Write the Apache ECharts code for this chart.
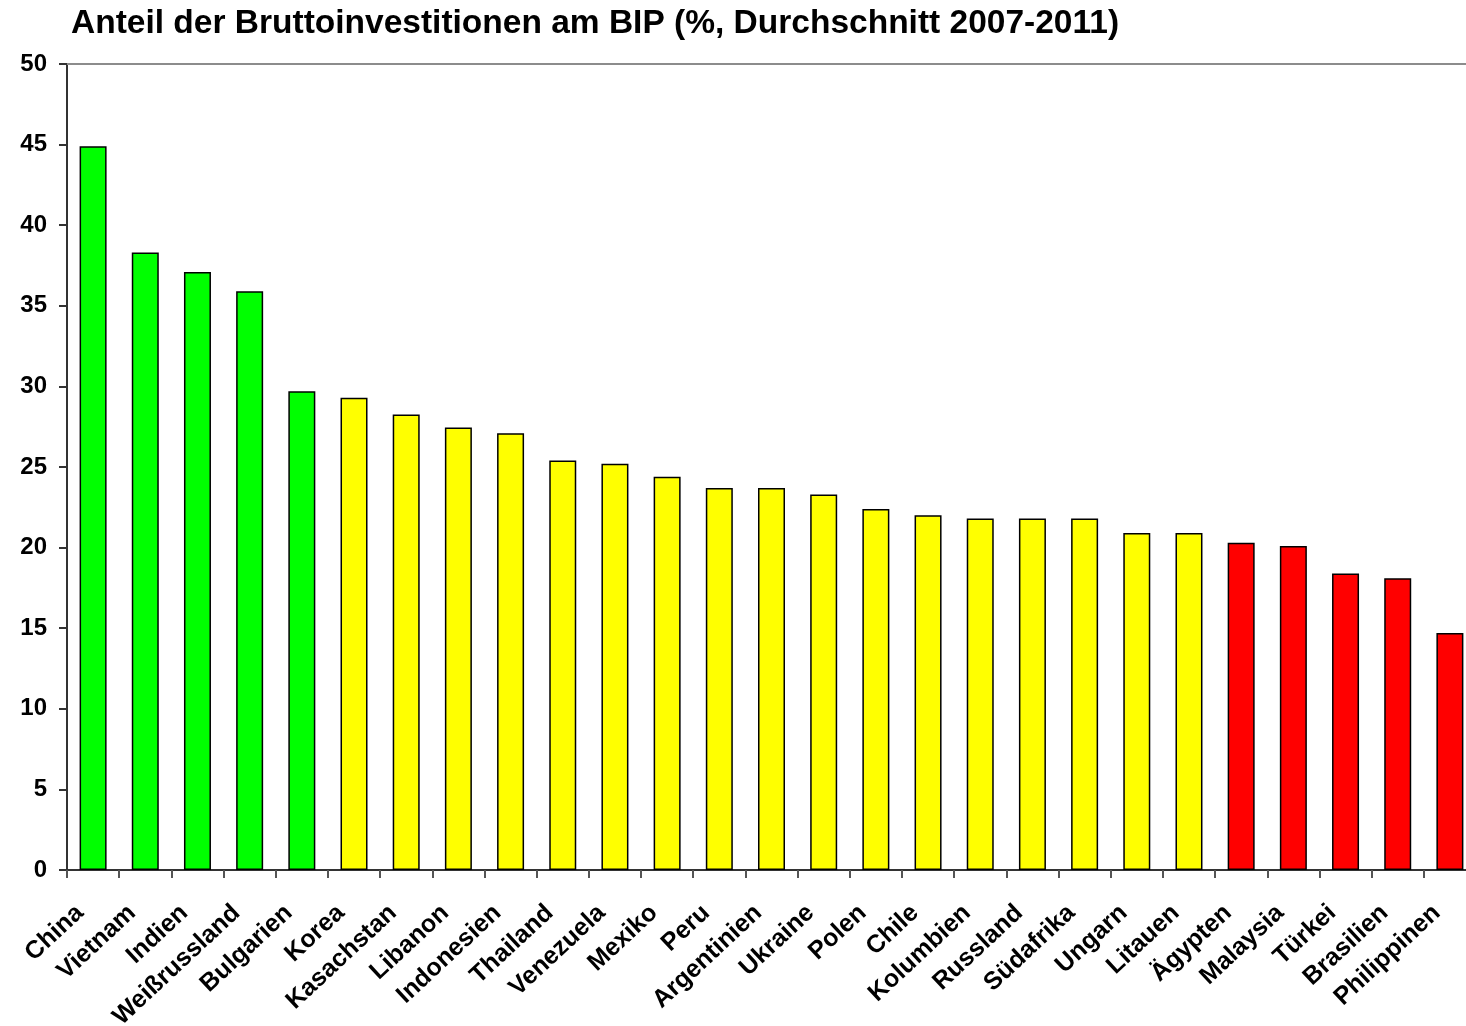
<!DOCTYPE html>
<html>
<head>
<meta charset="utf-8">
<script src="https://cdn.jsdelivr.net/npm/echarts@6/dist/echarts.min.js"></script>
<style>
  html, body { margin: 0; padding: 0; background: #fff; overflow: hidden; }
  #chart { width: 1476px; height: 1026px; }
</style>
</head>
<body>
<div id="chart"></div>
<script>
    // Daten
    var laender = ['China', 'Vietnam', 'Indien', 'Weißrussland', 'Bulgarien', 'Korea', 'Kasachstan', 'Libanon',
        'Indonesien', 'Thailand', 'Venezuela', 'Mexiko', 'Peru', 'Argentinien', 'Ukraine', 'Polen', 'Chile',
        'Kolumbien', 'Russland', 'Südafrika', 'Ungarn', 'Litauen', 'Ägypten', 'Malaysia', 'Türkei', 'Brasilien',
        'Philippinen'];
    var anteil = [44.9, 38.3, 37.1, 35.9, 29.7, 29.3, 28.25, 27.45, 27.1, 25.4, 25.2, 24.4, 23.7, 23.7, 23.3,
        22.4, 22.0, 21.8, 21.8, 21.8, 20.9, 20.9, 20.3, 20.1, 18.4, 18.1, 14.7];
    var gruppe = ['hoch', 'hoch', 'hoch', 'hoch', 'hoch',
        'mittel', 'mittel', 'mittel', 'mittel', 'mittel', 'mittel', 'mittel', 'mittel', 'mittel', 'mittel',
        'mittel', 'mittel', 'mittel', 'mittel', 'mittel', 'mittel', 'mittel',
        'niedrig', 'niedrig', 'niedrig', 'niedrig', 'niedrig'];
    var yTicks = [0, 5, 10, 15, 20, 25, 30, 35, 40, 45, 50];

    var farben = { hoch: '#00ff00', mittel: '#ffff00', niedrig: '#ff0000' };

    var myChart = echarts.init(document.getElementById('chart'));

    var option = {
        animation: false,
        title: {
            text: 'Anteil der Bruttoinvestitionen am BIP (%, Durchschnitt 2007-2011)',
            left: 66,
            top: 2,
            textStyle: { fontFamily: 'Liberation Sans, Arial', fontWeight: 'bold', fontSize: 33.5, color: '#000' }
        },
        grid: { left: 67, top: 64, right: 0, bottom: 156, outerBoundsMode: 'none', containLabel: false },
        xAxis: [
            {
                type: 'category',
                data: laender,
                axisLine: { lineStyle: { color: '#333', width: 2 } },
                axisTick: { show: true, length: 8, lineStyle: { color: '#555', width: 2 } },
                axisLabel: {
                    rotate: 43,
                    interval: 0,
                    margin: 27,
                    padding: [0, 18, 0, 0],
                    fontFamily: 'Liberation Sans, Arial',
                    fontWeight: 'bold',
                    fontSize: 25,
                    color: '#000'
                }
            },
            {
                type: 'category',
                position: 'top',
                data: laender,
                axisLine: { lineStyle: { color: '#8c8c8c', width: 2 } },
                axisTick: { show: false },
                axisLabel: { show: false }
            }
        ],
        yAxis: {
            type: 'value',
            min: 0,
            max: 50,
            interval: 5,
            axisLine: { show: true, lineStyle: { color: '#333', width: 2 } },
            axisTick: { show: true, length: 8, lineStyle: { color: '#333', width: 2 } },
            splitLine: { show: false },
            axisLabel: {
                margin: 20,
                fontFamily: 'Liberation Sans, Arial',
                fontWeight: 'bold',
                fontSize: 24,
                color: '#000',
                formatter: function (v) { return yTicks.indexOf(v) >= 0 ? String(v) : ''; }
            }
        },
        series: [
            {
                type: 'bar',
                barWidth: 27,
                data: anteil.map(function (v, i) {
                    return { value: v, itemStyle: { color: farben[gruppe[i]] } };
                }),
                itemStyle: { borderColor: '#000', borderWidth: 1.5 }
            }
        ]
    };

    myChart.setOption(option);
</script>
</body>
</html>
